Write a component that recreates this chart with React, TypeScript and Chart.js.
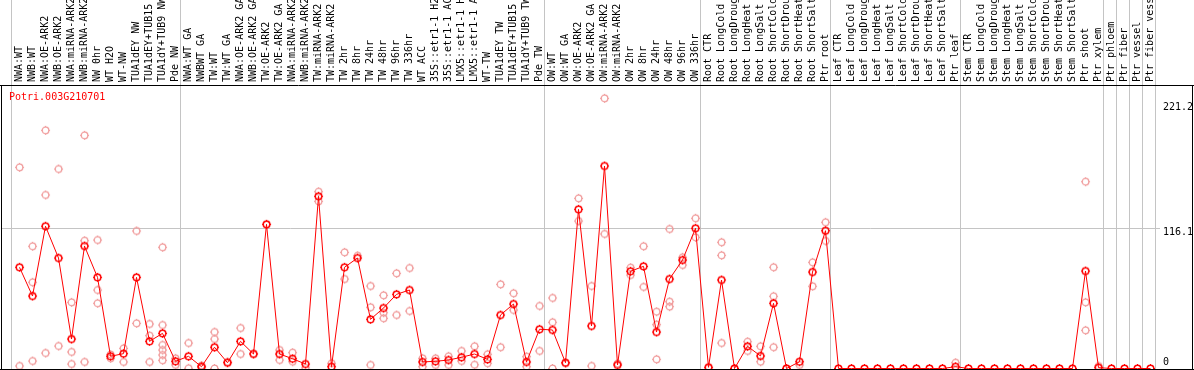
import React, { useEffect, useRef } from "react";
import { Chart, registerables } from "chart.js";

Chart.register(...registerables);

const chartTitle = "Potri.003G210701";

const categories: string[] = [
  "NWA:WT", "NWB:WT", "NWA:OE-ARK2", "NWB:OE-ARK2", "NWA:miRNA-ARK2", "NWB:miRNA-ARK2",
  "NW 0hr", "WT H2O", "WT-NW", "TUA1dEY NW", "TUA1dEY+TUB15 NW", "TUA1dY+TUB9 NW", "Pde NW",
  "NWA:WT GA", "NWBWT GA", "TW:WT", "TW:WT GA", "NWA:OE-ARK2 GA", "NWB:OE-ARK2 GA",
  "TW:OE-ARK2", "TW:OE-ARK2 GA", "NWA:miRNA-ARK2", "NWB:miRNA-ARK2", "TW:miRNA-ARK2",
  "TW:miRNA-ARK2", "TW 2hr", "TW 8hr", "TW 24hr", "TW 48hr", "TW 96hr", "TW 336hr", "WT ACC",
  "35S::etr1-1 H2O", "35S::etr1-1 ACC", "LMX5::etr1-1 H2O", "LMX5::etr1-1 ACC", "WT-TW",
  "TUA1dEY TW", "TUA1dEY+TUB15 TW", "TUA1dY+TUB9 TW", "Pde TW",
  "OW:WT", "OW:WT GA", "OW:OE-ARK2", "OW:OE-ARK2 GA", "OW:miRNA-ARK2", "OW:miRNA-ARK2",
  "OW 2hr", "OW 8hr", "OW 24hr", "OW 48hr", "OW 96hr", "OW 336hr",
  "Root CTR", "Root LongCold", "Root LongDrought", "Root LongHeat", "Root LongSalt",
  "Root ShortCold", "Root ShortDrought", "Root ShortHeat", "Root ShortSalt", "Ptr root",
  "Leaf CTR", "Leaf LongCold", "Leaf LongDrought", "Leaf LongHeat", "Leaf LongSalt",
  "Leaf ShortCold", "Leaf ShortDrought", "Leaf ShortHeat", "Leaf ShortSalt", "Ptr leaf",
  "Stem CTR", "Stem LongCold", "Stem LongDrought", "Stem LongHeat", "Stem LongSalt",
  "Stem ShortCold", "Stem ShortDrought", "Stem ShortHeat", "Stem ShortSalt", "Ptr shoot",
  "Ptr xylem", "Ptr phloem", "Ptr fiber", "Ptr vessel", "Ptr fiber vessel",
];

const meanValues: number[] = [
  83.8, 60.0, 117.8, 91.5, 24.4, 101.4, 75.5, 10.1, 12.3, 75.5, 22.5, 29.1, 6.0,
  10.1, 1.5, 17.6, 4.8, 22.5, 12.0, 119.4, 12.0, 8.1, 3.7, 142.6, 1.5, 83.8, 91.5,
  40.7, 50.1, 61.4, 65.0, 5.4, 6.0, 7.0, 9.3, 12.0, 7.6, 44.3, 53.4, 5.4, 32.5,
  31.9, 4.8, 131.8, 35.2, 167.7, 2.9, 80.5, 84.6, 30.2, 74.1, 89.8, 116.1,
  1.0, 73.3, 0, 18.4, 10.4, 54.0, 0, 5.6, 79.9, 114.1,
  0, 0, 0, 0, 0, 0, 0, 0, 0, 1.5,
  0, 0, 0, 0, 0, 0, 0, 0, 0, 80.7,
  0.7, 0, 0, 0, 0,
];

const replicateValues: number[][] = [
  [166.6, 2.1], [101.2, 71.4, 6.2], [197.2, 143.7, 12.8], [165.2, 18.6], [54.8, 13.7, 3.7],
  [193.1, 105.8, 5.4], [106.4, 65.0, 54.0], [8.4, 11.5], [16.7, 5.4], [113.9, 37.4],
  [36.9, 27.2, 5.4], [100.4, 36.0, 19.5, 15.3, 11.2, 6.8], [8.4, 3.0],
  [21.1, 0.2], [2.5, 0.8], [30.2, 24.4, 0], [5.5], [33.5, 12.0], [12.5], [119.4],
  [15.3, 7.0], [13.1, 5.6], [0.5], [146.4, 138.4], [4.3], [96.2, 74.1], [93.4],
  [68.3, 50.7, 2.9], [60.6, 46.2, 41.6], [78.8, 44.3], [83.2, 47.6], [8.4, 1.5],
  [8.4, 2.9], [10.1, 2.9], [14.5, 6.2], [18.4, 3.1], [11.8, 4.3], [69.7, 17.6],
  [62.3, 48.4], [9.8, 1.5], [51.8, 14.5],
  [58.4, 38.3, 0], [4.3], [140.9, 122.1], [68.3, 2.1], [223.7, 111.4], [4.0],
  [83.5, 77.4], [101.2, 67.5], [47.0, 36.3, 7.6], [115.5, 55.3, 51.2], [92.1, 85.7],
  [124.4, 108.6],
  [0.5], [104.5, 93.7, 21.1], [0], [22.2, 14.5], [18.4, 5.6], [83.8, 59.8, 17.6], [0],
  [2.9], [87.9, 68.1], [121.1, 105.6],
  [], [], [], [], [], [], [], [], [], [4.8],
  [], [], [], [], [], [], [], [], [], [154.7, 54.8, 31.6],
  [2.0], [], [], [], [],
];

const axisTickValues: number[] = [221.2, 116.1, 0];
const gridLineValue = 116.1;
const groupStarts: number[] = [0, 13, 41, 53, 63, 73, 84, 85, 86, 87, 88];

const FONT = '10px "DejaVu Sans Mono", monospace';
const RED = "#ff0000";
const PINK = "#f09a9a";
const GRAY = "#c4c4c4";

function makeMarker(color: string, lw: number): HTMLCanvasElement {
  const c = document.createElement("canvas");
  c.width = 11;
  c.height = 11;
  const g = c.getContext("2d")!;
  g.strokeStyle = color;
  g.fillStyle = color;
  g.lineWidth = lw;
  g.beginPath();
  g.arc(5.5, 5.5, 3.3, 0, Math.PI * 2);
  g.stroke();
  g.fillRect(5, 1, 1, 1);
  g.fillRect(5, 9, 1, 1);
  g.fillRect(1, 5, 1, 1);
  g.fillRect(9, 5, 1, 1);
  return c;
}

const decorPlugin = {
  id: "decor",
  beforeDatasetsDraw(chart: any) {
    const ctx = chart.ctx;
    const xs = chart.scales.x;
    const ys = chart.scales.y;
    const area = chart.chartArea;
    ctx.save();
    ctx.strokeStyle = GRAY;
    ctx.lineWidth = 1;
    groupStarts.forEach((k) => {
      const px = Math.floor(xs.getPixelForValue(k - 0.62)) + 0.5;
      ctx.beginPath();
      ctx.moveTo(px, 0);
      ctx.lineTo(px, chart.height);
      ctx.stroke();
    });
    const gy = Math.floor(ys.getPixelForValue(gridLineValue)) + 0.5;
    ctx.beginPath();
    ctx.moveTo(area.left, gy);
    ctx.lineTo(1160, gy);
    ctx.stroke();
    ctx.restore();
  },
  afterDatasetsDraw(chart: any) {
    const ctx = chart.ctx;
    const xs = chart.scales.x;
    const ys = chart.scales.y;
    const area = chart.chartArea;
    ctx.save();
    ctx.strokeStyle = "#000";
    ctx.lineWidth = 1;
    ctx.beginPath();
    ctx.moveTo(0, Math.floor(area.top) + 0.5);
    ctx.lineTo(chart.width, Math.floor(area.top) + 0.5);
    ctx.moveTo(0, Math.floor(area.bottom) + 0.5);
    ctx.lineTo(chart.width, Math.floor(area.bottom) + 0.5);
    ctx.moveTo(Math.floor(area.left) + 0.5, area.top);
    ctx.lineTo(Math.floor(area.left) + 0.5, chart.height);
    ctx.moveTo(Math.floor(area.right) + 0.5, area.top);
    ctx.lineTo(Math.floor(area.right) + 0.5, chart.height);
    ctx.stroke();

    ctx.font = FONT;
    ctx.fillStyle = "#000";
    ctx.textAlign = "left";
    ctx.textBaseline = "middle";
    categories.forEach((label, i) => {
      const px = xs.getPixelForValue(i);
      ctx.save();
      ctx.translate(px, area.top - 3);
      ctx.rotate(-Math.PI / 2);
      ctx.fillText(label, 0, 0);
      ctx.restore();
    });

    ctx.fillStyle = RED;
    ctx.textBaseline = "middle";
    ctx.fillText(chartTitle, 9, area.top + 12);

    ctx.fillStyle = "#000";
    const offs = [6, 4, -6.5];
    axisTickValues.forEach((v, j) => {
      ctx.fillText(String(v), 1163, ys.getPixelForValue(v) + offs[j]);
    });
    ctx.restore();
  },
};

export default function App() {
  const ref = useRef<HTMLCanvasElement | null>(null);
  useEffect(() => {
    if (!ref.current) return;
    const mainMarker = makeMarker(RED, 1.5);
    const repMarker = makeMarker(PINK, 1.3);
    const mainData = meanValues.map((v, i) => ({ x: i, y: v }));
    const repData: { x: number; y: number }[] = [];
    replicateValues.forEach((arr, i) => arr.forEach((v) => repData.push({ x: i, y: v })));
    const chart = new Chart(ref.current, {
      type: "line",
      data: {
        datasets: [
          {
            data: mainData,
            borderColor: RED,
            borderWidth: 1,
            pointStyle: mainMarker as any,
            pointRadius: 5,
            tension: 0,
          },
          {
            data: repData,
            showLine: false,
            pointStyle: repMarker as any,
            pointRadius: 5,
          },
        ],
      },
      plugins: [decorPlugin],
      options: {
        animation: false,
        responsive: false,
        devicePixelRatio: 1,
        layout: { autoPadding: false, padding: { left: 1, top: 85, right: 2, bottom: 1 } },
        plugins: { legend: { display: false }, tooltip: { enabled: false } },
        scales: {
          x: { type: "linear", display: false, min: -1.4231, max: 90.192 },
          y: { type: "linear", display: false, min: -0.414, max: 234.77 },
        },
      },
    });
    return () => chart.destroy();
  }, []);
  return (
    <div style={{ position: "fixed", left: 0, top: 0, width: 1194, height: 370, background: "#fff" }}>
      <canvas ref={ref} width={1194} height={370} style={{ display: "block" }} />
    </div>
  );
}
